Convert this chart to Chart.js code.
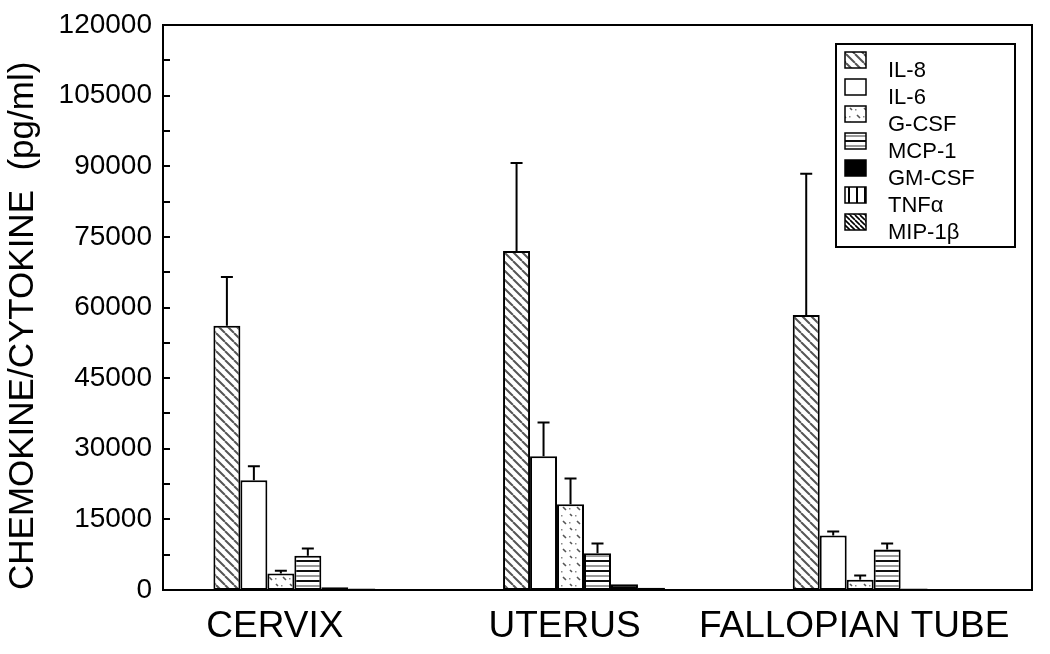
<!DOCTYPE html>
<html><head><meta charset="utf-8">
<script src="https://cdn.jsdelivr.net/npm/chart.js@4.4.1/dist/chart.umd.min.js"></script>
<style>html,body{margin:0;padding:0;background:#fff}#wrap{width:1050px;height:654px}</style>
</head><body><div id="wrap"><canvas id="c" width="1050" height="654"></canvas></div>
<script>
const categories = ['CERVIX', 'UTERUS', 'FALLOPIAN TUBE'];
const seriesNames = ['IL-8', 'IL-6', 'G-CSF', 'MCP-1', 'GM-CSF', 'TNF\u03B1', 'MIP-1\u03B2'];
const il8 = [56100, 72000, 58400];   const il8Err = [10400, 18700, 30000];
const il6 = [23300, 28400, 11600];   const il6Err = [3000, 7200, 800];
const gcsf = [3500, 18200, 2200];    const gcsfErr = [600, 5500, 900];
const mcp1 = [7300, 7800, 8600];     const mcp1Err = [1500, 2100, 1300];
const gmcsf = [600, 1200, 300];      const gmcsfErr = [0, 0, 0];
const tnfa = [300, 500, 100];        const tnfaErr = [0, 0, 0];
const mip1b = [100, 200, 0];         const mip1bErr = [0, 0, 0];
const yMax = 120000, yMajor = 15000, yMinor = 7500;

const seriesValues = [il8, il6, gcsf, mcp1, gmcsf, tnfa, mip1b];
const seriesErrors = [il8Err, il6Err, gcsfErr, mcp1Err, gmcsfErr, tnfaErr, mip1bErr];

function tile(w, h, draw) {
  const c = document.createElement('canvas'); c.width = w; c.height = h;
  const g = c.getContext('2d'); g.fillStyle = '#fff'; g.fillRect(0, 0, w, h);
  draw(g, w, h);
  return document.getElementById('c').getContext('2d').createPattern(c, 'repeat');
}
function diag(g, s, color, lw) {
  g.strokeStyle = color; g.lineWidth = lw; g.beginPath();
  for (let o = -s; o <= s; o += s) { g.moveTo(o, 0); g.lineTo(o + s, s); }
  g.stroke();
}
const patterns = [
  tile(9, 9, (g) => diag(g, 9, '#555', 2)),
  '#fff',
  tile(14, 14, (g) => {
    g.strokeStyle = '#555'; g.lineWidth = 1.6; g.beginPath();
    g.moveTo(3, 3); g.lineTo(6, 6); g.moveTo(10, 10); g.lineTo(12, 12);
    g.stroke(); g.fillStyle = '#888'; g.fillRect(1, 11, 1.5, 1.5); g.fillRect(9, 4, 1.5, 1.5);
  }),
  tile(4, 10, (g) => { g.fillStyle = '#111'; g.fillRect(0, 0, 4, 2); g.fillStyle = '#999'; g.fillRect(0, 5, 4, 2); }),
  '#000',
  tile(8, 4, (g) => { g.fillStyle = '#000'; g.fillRect(0, 0, 2, 4); }),
  tile(5, 5, (g) => diag(g, 5, '#000', 1.6))
];

const datasets = seriesNames.map((n, i) => ({
  label: n, data: seriesValues[i], errors: seriesErrors[i],
  backgroundColor: patterns[i], borderColor: '#000', borderWidth: 2, borderSkipped: false,
  categoryPercentage: 0.652, barPercentage: 1.0
}));

const framePlugin = {
  id: 'frame',
  afterDatasetsDraw(chart) {
    const ctx = chart.ctx, a = chart.chartArea, ys = chart.scales.y;
    ctx.save();
    ctx.strokeStyle = '#000'; ctx.lineWidth = 2;
    chart.data.datasets.forEach((ds, di) => {
      const meta = chart.getDatasetMeta(di);
      meta.data.forEach((bar, i) => {
        const e = ds.errors[i]; if (!e) return;
        const yt = ys.getPixelForValue(ds.data[i] + e);
        ctx.beginPath(); ctx.moveTo(bar.x, bar.y); ctx.lineTo(bar.x, yt);
        ctx.moveTo(bar.x - 6, yt); ctx.lineTo(bar.x + 6, yt); ctx.stroke();
      });
    });
    ctx.lineWidth = 2; ctx.strokeStyle = '#000';
    ctx.strokeRect(a.left, a.top, a.right - a.left, a.bottom - a.top);
    ctx.beginPath();
    for (let v = 0; v <= yMax; v += yMinor) {
      const y = Math.round(ys.getPixelForValue(v));
      ctx.moveTo(a.left, y); ctx.lineTo(a.left + 7, y);
    }
    ctx.stroke();
    ctx.restore();
  },
  afterDraw(chart) {
    const ctx = chart.ctx;
    ctx.save();
    const bx = 836, by = 44, bw = 179, bh = 203;
    ctx.lineWidth = 2; ctx.strokeStyle = '#000';
    ctx.strokeRect(bx, by, bw, bh);
    ctx.font = '22px "Liberation Sans", Arial, sans-serif';
    ctx.textBaseline = 'middle'; ctx.fillStyle = '#000';
    chart.data.datasets.forEach((ds, i) => {
      const ty = 71 + i * 27;
      const sy = ty - 19;
      ctx.fillStyle = ds.backgroundColor; ctx.fillRect(845, sy, 21, 16);
      ctx.lineWidth = 1.5; ctx.strokeRect(845, sy, 21, 16);
      ctx.fillStyle = '#000'; ctx.fillText(ds.label, 888, ty);
    });
    ctx.restore();
  }
};

new Chart(document.getElementById('c'), {
  type: 'bar',
  data: { labels: categories, datasets },
  plugins: [framePlugin],
  options: {
    responsive: false, animation: false, devicePixelRatio: 1,
    layout: { padding: { top: 25, right: 18, left: 0, bottom: 0 } },
    plugins: { legend: { display: false }, tooltip: { enabled: false } },
    scales: {
      x: {
        grid: { display: false, drawTicks: false }, border: { display: false },
        ticks: { color: '#000', padding: 15, labelOffset: -33, maxRotation: 0, autoSkip: false,
          font: { family: '"Liberation Sans", Arial', size: 37 } },
        afterFit(s) { s.height = 64; s.paddingLeft = 0; s.paddingRight = 0; }
      },
      y: {
        min: 0, max: yMax,
        grid: { display: false, drawTicks: false }, border: { display: false },
        ticks: { stepSize: yMinor, autoSkip: false, color: '#000', padding: 11,
          font: { family: '"Liberation Sans", Arial', size: 28 },
          callback: (v) => (v % yMajor === 0 ? String(v) : '') },
        title: { display: true, text: 'CHEMOKINE/CYTOKINE  (pg/ml)', color: '#000', padding: 2, align: 'start',
          font: { family: '"Liberation Sans", Arial', size: 35 } },
        afterFit(s) { s.width = 163; s.paddingTop = 0; s.paddingBottom = 0; }
      }
    }
  }
});
</script></body></html>
